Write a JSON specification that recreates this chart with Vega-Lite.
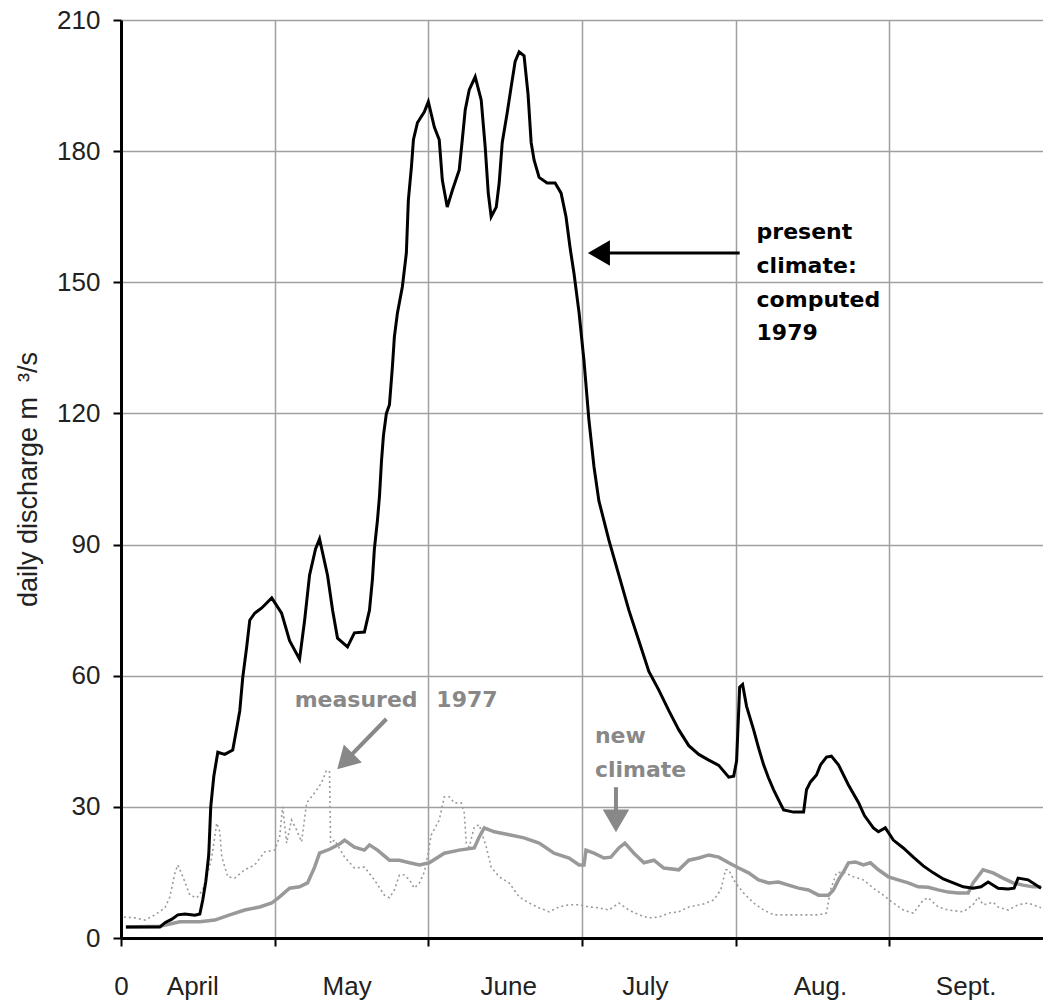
{
  "$schema": "https://vega.github.io/schema/vega-lite/v6.json",
  "width": 922,
  "height": 918,
  "autosize": {"type": "none"},
  "padding": {"left": 121, "top": 20, "right": 0, "bottom": 69},
  "background": "white",
  "config": {"view": {"stroke": null}, "font": "Liberation Sans"},
  "datasets": {
    "computed": [
      {"m":0.032,"q":2.5},{"m":0.253,"q":2.5},{"m":0.286,"q":3.5},{"m":0.331,"q":4.3},{"m":0.37,"q":5.3},{"m":0.416,"q":5.5},{"m":0.481,"q":5.2},{"m":0.513,"q":5.5},{"m":0.532,"q":8.7},{"m":0.552,"q":13},{"m":0.571,"q":19},{"m":0.584,"q":30},{"m":0.604,"q":37},{"m":0.63,"q":42.5},{"m":0.675,"q":42},{"m":0.727,"q":43},{"m":0.753,"q":48},{"m":0.773,"q":52},{"m":0.792,"q":59.5},{"m":0.818,"q":66.6},{"m":0.838,"q":72.7},{"m":0.87,"q":74.3},{"m":0.916,"q":75.5},{"m":0.981,"q":77.8},{"m":1.045,"q":74.3},{"m":1.097,"q":68},{"m":1.162,"q":63.8},{"m":1.195,"q":72.7},{"m":1.227,"q":83},{"m":1.266,"q":89},{"m":1.292,"q":91.3},{"m":1.344,"q":83},{"m":1.377,"q":75},{"m":1.409,"q":68.6},{"m":1.474,"q":66.6},{"m":1.519,"q":69.8},{"m":1.584,"q":70},{"m":1.617,"q":75},{"m":1.636,"q":82},{"m":1.649,"q":89},{"m":1.669,"q":95.6},{"m":1.682,"q":101},{"m":1.695,"q":109},{"m":1.708,"q":115},{"m":1.727,"q":120},{"m":1.747,"q":122},{"m":1.766,"q":130.6},{"m":1.779,"q":137.5},{"m":1.799,"q":143},{"m":1.831,"q":149},{"m":1.857,"q":156.7},{"m":1.87,"q":168.8},{"m":1.89,"q":176.4},{"m":1.903,"q":182.6},{"m":1.929,"q":186.5},{"m":1.974,"q":189},{"m":2.0,"q":191.3},{"m":2.039,"q":185.5},{"m":2.071,"q":182.6},{"m":2.091,"q":173.4},{"m":2.123,"q":167.2},{"m":2.156,"q":171},{"m":2.201,"q":175.7},{"m":2.221,"q":182.6},{"m":2.24,"q":189.4},{"m":2.266,"q":194},{"m":2.305,"q":197},{"m":2.344,"q":191.7},{"m":2.37,"q":181},{"m":2.39,"q":170.4},{"m":2.409,"q":165},{"m":2.442,"q":167.2},{"m":2.461,"q":172.7},{"m":2.481,"q":182},{"m":2.513,"q":188.7},{"m":2.539,"q":194.7},{"m":2.565,"q":200.5},{"m":2.591,"q":202.7},{"m":2.623,"q":201.8},{"m":2.649,"q":193},{"m":2.669,"q":182},{"m":2.688,"q":178},{"m":2.721,"q":174},{"m":2.773,"q":172.7},{"m":2.825,"q":172.7},{"m":2.864,"q":170.4},{"m":2.896,"q":165},{"m":2.922,"q":158},{"m":2.948,"q":152},{"m":2.981,"q":143},{"m":3.013,"q":132},{"m":3.045,"q":118.5},{"m":3.078,"q":107.8},{"m":3.11,"q":100},{"m":3.175,"q":91},{"m":3.24,"q":83},{"m":3.305,"q":75},{"m":3.37,"q":68},{"m":3.435,"q":61},{"m":3.5,"q":56.7},{"m":3.565,"q":52},{"m":3.63,"q":47.6},{"m":3.695,"q":44},{"m":3.76,"q":42},{"m":3.825,"q":40.7},{"m":3.89,"q":39.5},{"m":3.955,"q":36.8},{"m":3.987,"q":37},{"m":4.006,"q":40.5},{"m":4.026,"q":57.4},{"m":4.045,"q":58},{"m":4.071,"q":53},{"m":4.117,"q":47.6},{"m":4.149,"q":43.5},{"m":4.182,"q":39.6},{"m":4.214,"q":36.6},{"m":4.247,"q":33.9},{"m":4.279,"q":31.6},{"m":4.312,"q":29.3},{"m":4.377,"q":28.8},{"m":4.442,"q":28.8},{"m":4.461,"q":33.9},{"m":4.487,"q":35.7},{"m":4.526,"q":37.3},{"m":4.552,"q":39.6},{"m":4.591,"q":41.4},{"m":4.623,"q":41.6},{"m":4.669,"q":39.6},{"m":4.734,"q":35},{"m":4.799,"q":31},{"m":4.838,"q":28},{"m":4.896,"q":25.2},{"m":4.929,"q":24.3},{"m":4.974,"q":25.2},{"m":5.026,"q":22.4},{"m":5.091,"q":20.6},{"m":5.156,"q":18.5},{"m":5.221,"q":16.5},{"m":5.286,"q":14.9},{"m":5.351,"q":13.5},{"m":5.416,"q":12.6},{"m":5.481,"q":11.7},{"m":5.545,"q":11.4},{"m":5.597,"q":11.7},{"m":5.643,"q":12.8},{"m":5.708,"q":11.4},{"m":5.773,"q":11.2},{"m":5.812,"q":11.4},{"m":5.838,"q":13.7},{"m":5.903,"q":13.3},{"m":5.987,"q":11.4}
    ],
    "newclimate": [
      {"m":0.032,"q":2.5},{"m":0.253,"q":2.7},{"m":0.318,"q":3.2},{"m":0.383,"q":3.7},{"m":0.513,"q":3.7},{"m":0.61,"q":4.1},{"m":0.708,"q":5.3},{"m":0.805,"q":6.4},{"m":0.903,"q":7.1},{"m":0.981,"q":8},{"m":1.032,"q":9.4},{"m":1.097,"q":11.4},{"m":1.162,"q":11.7},{"m":1.214,"q":12.6},{"m":1.26,"q":16.2},{"m":1.292,"q":19.4},{"m":1.357,"q":20.3},{"m":1.422,"q":21.5},{"m":1.455,"q":22.4},{"m":1.519,"q":20.8},{"m":1.584,"q":20.1},{"m":1.617,"q":21.3},{"m":1.669,"q":20.1},{"m":1.747,"q":17.8},{"m":1.812,"q":17.8},{"m":1.877,"q":17.2},{"m":1.942,"q":16.7},{"m":2.006,"q":17.2},{"m":2.104,"q":19.4},{"m":2.201,"q":20.1},{"m":2.299,"q":20.6},{"m":2.331,"q":23.1},{"m":2.364,"q":25.2},{"m":2.429,"q":24.3},{"m":2.526,"q":23.6},{"m":2.623,"q":22.9},{"m":2.721,"q":21.7},{"m":2.818,"q":19.4},{"m":2.916,"q":18.3},{"m":2.981,"q":16.7},{"m":3.013,"q":16.7},{"m":3.026,"q":20.1},{"m":3.078,"q":19.4},{"m":3.143,"q":18.3},{"m":3.188,"q":18.5},{"m":3.24,"q":20.6},{"m":3.279,"q":21.7},{"m":3.338,"q":19.4},{"m":3.403,"q":17.2},{"m":3.468,"q":17.8},{"m":3.532,"q":16},{"m":3.63,"q":15.6},{"m":3.695,"q":17.8},{"m":3.76,"q":18.3},{"m":3.825,"q":19},{"m":3.89,"q":18.5},{"m":3.955,"q":17.2},{"m":4.019,"q":16},{"m":4.084,"q":14.9},{"m":4.149,"q":13.3},{"m":4.214,"q":12.6},{"m":4.279,"q":12.8},{"m":4.344,"q":12.1},{"m":4.409,"q":11.4},{"m":4.474,"q":11},{"m":4.539,"q":9.8},{"m":4.604,"q":9.8},{"m":4.636,"q":11},{"m":4.669,"q":13.3},{"m":4.701,"q":15.1},{"m":4.734,"q":17.2},{"m":4.779,"q":17.4},{"m":4.831,"q":16.7},{"m":4.877,"q":17.2},{"m":4.929,"q":15.6},{"m":4.994,"q":14},{"m":5.058,"q":13.3},{"m":5.123,"q":12.6},{"m":5.188,"q":11.7},{"m":5.253,"q":11.6},{"m":5.318,"q":11},{"m":5.383,"q":10.5},{"m":5.448,"q":10.3},{"m":5.513,"q":10.3},{"m":5.545,"q":12.6},{"m":5.61,"q":15.6},{"m":5.675,"q":14.9},{"m":5.74,"q":13.7},{"m":5.805,"q":12.6},{"m":5.87,"q":12.1},{"m":5.935,"q":11.7},{"m":5.987,"q":11.7}
    ],
    "measured": [
      {"m":0.019,"q":4.8},{"m":0.091,"q":4.6},{"m":0.156,"q":4.1},{"m":0.221,"q":5.3},{"m":0.286,"q":6.9},{"m":0.318,"q":9.4},{"m":0.351,"q":14.9},{"m":0.37,"q":16.7},{"m":0.403,"q":14},{"m":0.448,"q":9.8},{"m":0.494,"q":9.2},{"m":0.532,"q":11},{"m":0.565,"q":14.9},{"m":0.591,"q":18.5},{"m":0.623,"q":26.3},{"m":0.643,"q":24.3},{"m":0.656,"q":18.5},{"m":0.695,"q":14},{"m":0.74,"q":13.7},{"m":0.805,"q":15.6},{"m":0.87,"q":16.7},{"m":0.935,"q":19.7},{"m":1.0,"q":20.1},{"m":1.032,"q":23.1},{"m":1.052,"q":30},{"m":1.078,"q":21.7},{"m":1.11,"q":27},{"m":1.143,"q":24.7},{"m":1.175,"q":22},{"m":1.208,"q":30.9},{"m":1.26,"q":33.2},{"m":1.305,"q":35.5},{"m":1.338,"q":38.4},{"m":1.357,"q":38},{"m":1.364,"q":21.7},{"m":1.39,"q":22.4},{"m":1.455,"q":18.5},{"m":1.519,"q":16},{"m":1.584,"q":16.2},{"m":1.649,"q":13.3},{"m":1.714,"q":9.8},{"m":1.747,"q":9.2},{"m":1.779,"q":11},{"m":1.812,"q":14.4},{"m":1.844,"q":14.4},{"m":1.877,"q":13.3},{"m":1.909,"q":11.4},{"m":1.942,"q":12.6},{"m":1.974,"q":15.1},{"m":1.994,"q":18.5},{"m":2.019,"q":23.6},{"m":2.071,"q":27},{"m":2.104,"q":32.3},{"m":2.136,"q":32.3},{"m":2.169,"q":30.9},{"m":2.214,"q":30.9},{"m":2.234,"q":28.6},{"m":2.247,"q":21.7},{"m":2.266,"q":20.8},{"m":2.299,"q":25.4},{"m":2.331,"q":25.9},{"m":2.377,"q":20.8},{"m":2.409,"q":16.2},{"m":2.461,"q":14},{"m":2.526,"q":12.6},{"m":2.591,"q":9.4},{"m":2.656,"q":8},{"m":2.721,"q":6.9},{"m":2.786,"q":6},{"m":2.851,"q":7.1},{"m":2.916,"q":7.6},{"m":2.981,"q":7.6},{"m":3.045,"q":7.1},{"m":3.11,"q":6.9},{"m":3.175,"q":6.4},{"m":3.24,"q":8},{"m":3.305,"q":6.4},{"m":3.37,"q":5.3},{"m":3.435,"q":4.6},{"m":3.5,"q":4.8},{"m":3.565,"q":5.7},{"m":3.63,"q":6},{"m":3.695,"q":7.1},{"m":3.792,"q":7.8},{"m":3.857,"q":8.7},{"m":3.903,"q":11},{"m":3.935,"q":15.6},{"m":3.955,"q":15.6},{"m":3.987,"q":13.3},{"m":4.019,"q":11.7},{"m":4.052,"q":10.3},{"m":4.117,"q":8},{"m":4.182,"q":6.4},{"m":4.247,"q":5.3},{"m":4.409,"q":5.3},{"m":4.539,"q":5.3},{"m":4.591,"q":5.7},{"m":4.617,"q":11},{"m":4.656,"q":14.9},{"m":4.701,"q":15.1},{"m":4.766,"q":14},{"m":4.831,"q":13.3},{"m":4.896,"q":11.4},{"m":4.961,"q":9.8},{"m":5.026,"q":8},{"m":5.091,"q":6.4},{"m":5.156,"q":5.7},{"m":5.221,"q":8.7},{"m":5.253,"q":9.2},{"m":5.318,"q":7.1},{"m":5.383,"q":6.4},{"m":5.481,"q":6},{"m":5.545,"q":7.6},{"m":5.578,"q":9.4},{"m":5.61,"q":7.6},{"m":5.675,"q":8.2},{"m":5.708,"q":7.1},{"m":5.773,"q":6.4},{"m":5.838,"q":7.6},{"m":5.903,"q":8},{"m":5.987,"q":6.9}
    ]
  },
  "layer": [
    {
      "data": {"name": "measured"},
      "mark": {"type": "line", "color": "#9a9a9a", "strokeWidth": 1.6, "strokeDash": [2, 3]},
      "encoding": {
        "x": {
          "field": "m", "type": "quantitative",
          "scale": {"domain": [0, 6], "nice": false, "zero": false},
          "axis": {
            "title": null,
            "values": [0, 0.464, 1, 1.468, 2, 2.52, 3, 3.409, 4, 4.549, 5, 5.497, 6],
            "labelExpr": "datum.value < 0.1 ? '0' : abs(datum.value - round(datum.value)) < 0.01 ? '' : datum.value < 1 ? 'April' : datum.value < 2 ? 'May' : datum.value < 3 ? 'June' : datum.value < 4 ? 'July' : datum.value < 5 ? 'Aug.' : 'Sept.'",
            "labelFlush": false,
            "labelOverlap": false,
            "labelFont": "Liberation Sans",
            "labelFontSize": 26,
            "labelColor": "#222222",
            "labelPadding": 27,
            "labelBaseline": "top",
            "domainColor": "#000000",
            "domainWidth": 3,
            "tickColor": "#000000",
            "tickWidth": 2,
            "tickSize": 8,
            "tickOpacity": {"condition": {"test": "abs(datum.value - round(datum.value)) > 0.01 || datum.value > 5.9", "value": 0}, "value": 1},
            "grid": true,
            "gridColor": "#a0a0a0",
            "gridWidth": 1.5,
            "gridOpacity": {"condition": {"test": "abs(datum.value - round(datum.value)) > 0.01 || datum.value > 5.9 || datum.value < 0.1", "value": 0}, "value": 1}
          }
        },
        "y": {
          "field": "q", "type": "quantitative",
          "scale": {"domain": [0, 210], "nice": false},
          "axis": {
            "title": "daily discharge m\u00a0\u00a0³/s",
            "titleFont": "Liberation Sans",
            "titleFontSize": 27,
            "titleFontWeight": "normal",
            "titleColor": "#222222",
            "titlePadding": 14,
            "values": [0, 30, 60, 90, 120, 150, 180, 210],
            "labelFont": "Liberation Sans",
            "labelFontSize": 26,
            "labelColor": "#222222",
            "labelPadding": 13,
            "domainColor": "#000000",
            "domainWidth": 3,
            "tickColor": "#000000",
            "tickWidth": 2,
            "tickSize": 8,
            "grid": true,
            "gridColor": "#a0a0a0",
            "gridWidth": 1.5
          }
        }
      }
    },
    {
      "data": {"name": "newclimate"},
      "mark": {"type": "line", "color": "#999999", "strokeWidth": 3.5},
      "encoding": {
        "x": {"field": "m", "type": "quantitative"},
        "y": {"field": "q", "type": "quantitative"}
      }
    },
    {
      "data": {"name": "computed"},
      "mark": {"type": "line", "color": "#000000", "strokeWidth": 3},
      "encoding": {
        "x": {"field": "m", "type": "quantitative"},
        "y": {"field": "q", "type": "quantitative"}
      }
    },
    {
      "mark": {"type": "rule", "color": "#000000", "strokeWidth": 3},
      "encoding": {"y": {"datum": 210}}
    },
    {
      "data": {"values": [
        {"m": 1.130, "q": 52.8, "t": "measured"},
        {"m": 2.052, "q": 52.8, "t": "1977"},
        {"m": 3.084, "q": 44.6, "t": "new"},
        {"m": 3.084, "q": 36.8, "t": "climate"}
      ]},
      "mark": {"type": "text", "align": "left", "baseline": "alphabetic", "font": "DejaVu Sans", "fontWeight": "bold", "fontSize": 22, "color": "#888888"},
      "encoding": {
        "x": {"field": "m", "type": "quantitative"},
        "y": {"field": "q", "type": "quantitative"},
        "text": {"field": "t"}
      }
    },
    {
      "data": {"values": [
        {"m": 4.136, "q": 159.9, "t": "present"},
        {"m": 4.136, "q": 152.1, "t": "climate:"},
        {"m": 4.136, "q": 144.4, "t": "computed"},
        {"m": 4.136, "q": 136.8, "t": "1979"}
      ]},
      "mark": {"type": "text", "align": "left", "baseline": "alphabetic", "font": "DejaVu Sans", "fontWeight": "bold", "fontSize": 22, "color": "#000000"},
      "encoding": {
        "x": {"field": "m", "type": "quantitative"},
        "y": {"field": "q", "type": "quantitative"},
        "text": {"field": "t"}
      }
    },
    {
      "data": {"values": [
        {"m": 1.727, "q": 50.1, "m2": 1.458, "q2": 40.4},
        {"m": 3.221, "q": 34.5, "m2": 3.221, "q2": 27}
      ]},
      "mark": {"type": "rule", "color": "#888888", "strokeWidth": 4},
      "encoding": {
        "x": {"field": "m", "type": "quantitative"},
        "y": {"field": "q", "type": "quantitative"},
        "x2": {"field": "m2"},
        "y2": {"field": "q2"}
      }
    },
    {
      "data": {"values": [{"m": 4.026, "q": 156.7, "m2": 3.15, "q2": 156.7}]},
      "mark": {"type": "rule", "color": "#000000", "strokeWidth": 3},
      "encoding": {
        "x": {"field": "m", "type": "quantitative"},
        "y": {"field": "q", "type": "quantitative"},
        "x2": {"field": "m2"},
        "y2": {"field": "q2"}
      }
    },
    {
      "data": {"values": [{"m": 1.458, "q": 40.4}]},
      "mark": {"type": "point", "shape": "triangle-up", "angle": 225, "filled": true, "opacity": 1, "size": 650, "color": "#888888"},
      "encoding": {
        "x": {"field": "m", "type": "quantitative"},
        "y": {"field": "q", "type": "quantitative"}
      }
    },
    {
      "data": {"values": [{"m": 3.221, "q": 26.8}]},
      "mark": {"type": "point", "shape": "triangle-down", "filled": true, "opacity": 1, "size": 700, "color": "#888888"},
      "encoding": {
        "x": {"field": "m", "type": "quantitative"},
        "y": {"field": "q", "type": "quantitative"}
      }
    },
    {
      "data": {"values": [{"m": 3.11, "q": 156.7}]},
      "mark": {"type": "point", "shape": "triangle-left", "filled": true, "opacity": 1, "size": 650, "color": "#000000"},
      "encoding": {
        "x": {"field": "m", "type": "quantitative"},
        "y": {"field": "q", "type": "quantitative"}
      }
    }
  ]
}
